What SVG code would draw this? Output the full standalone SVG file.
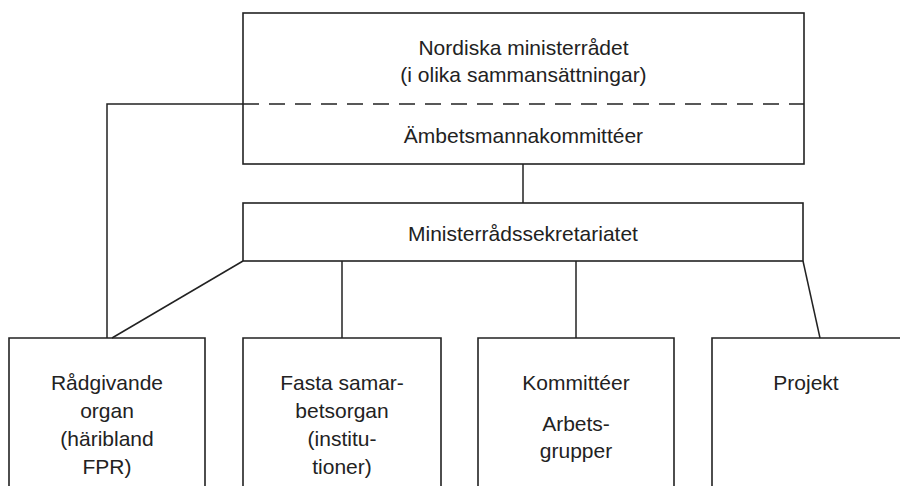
<svg xmlns="http://www.w3.org/2000/svg" width="900" height="486" viewBox="0 0 900 486">
<style>
.box{fill:none;stroke:#222;stroke-width:1.6}
.ln{fill:none;stroke:#222;stroke-width:1.5}
.dash{fill:none;stroke:#222;stroke-width:1.5;stroke-dasharray:16 10}
text{font-family:"Liberation Sans",Arial,sans-serif;font-size:21px;fill:#222;text-anchor:middle}
</style>
<rect width="900" height="486" fill="#fff"/>
<g id="connectors">
<polyline class="ln" points="243,104 107,104 107,338"/>
<line class="ln" x1="523" y1="164" x2="523" y2="203"/>
<line class="ln" x1="243" y1="261" x2="112" y2="338"/>
<line class="ln" x1="342" y1="261" x2="342" y2="338"/>
<line class="ln" x1="576" y1="261" x2="576" y2="338"/>
<line class="ln" x1="803" y1="261" x2="820" y2="338"/>
</g>
<g id="ministerradet">
<rect class="box" x="243" y="13" width="561" height="151"/>
<line class="dash" x1="243" y1="104" x2="804" y2="104"/>
<text x="523.5" y="54.5">Nordiska ministerrådet</text>
<text x="523.5" y="82">(i olika sammansättningar)</text>
<text x="523.5" y="143">Ämbetsmannakommittéer</text>
</g>
<g id="sekretariatet">
<rect class="box" x="243" y="203" width="560" height="58"/>
<text x="523" y="240.5">Ministerrådssekretariatet</text>
</g>
<g id="radgivande">
<path class="box" d="M9,490 V338 H205 V490"/>
<text x="107" y="390">Rådgivande</text>
<text x="107" y="418">organ</text>
<text x="107" y="446">(häribland</text>
<text x="107" y="474">FPR)</text>
</g>
<g id="fasta">
<path class="box" d="M243,490 V338 H441 V490"/>
<text x="342" y="390">Fasta samar-</text>
<text x="342" y="418">betsorgan</text>
<text x="342" y="446">(institu-</text>
<text x="342" y="474">tioner)</text>
</g>
<g id="kommitteer">
<path class="box" d="M478,490 V338 H674 V490"/>
<text x="576" y="390">Kommittéer</text>
<text x="576" y="431">Arbets-</text>
<text x="576" y="458">grupper</text>
</g>
<g id="projekt">
<path class="box" d="M712,490 V338 H905"/>
<text x="806" y="390">Projekt</text>
</g>
</svg>
